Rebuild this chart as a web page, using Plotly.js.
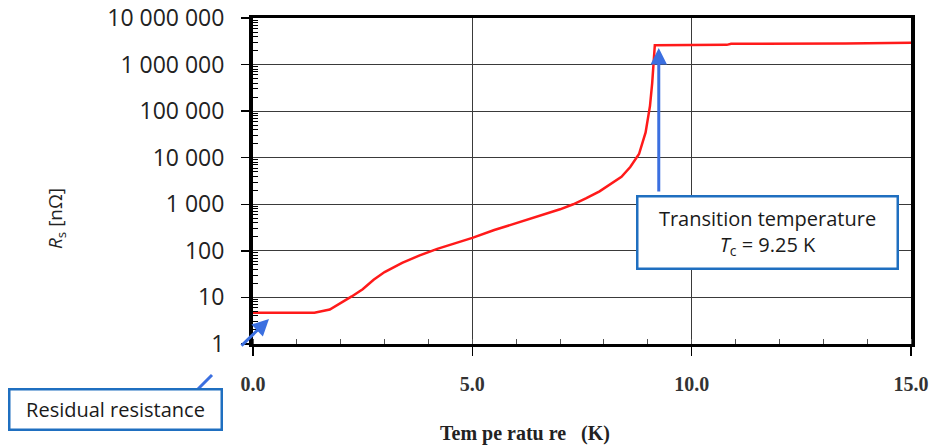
<!DOCTYPE html>
<html>
<head>
<meta charset="utf-8">
<script src="https://cdn.plot.ly/plotly-3.0.1.min.js"></script>
<style>
  html, body { margin: 0; padding: 0; background: #fff; }
  #chart { width: 936px; height: 445px; }
</style>
</head>
<body>
<div id="chart"></div>
<script>
// Surface resistance of a niobium cavity versus temperature
const temperatureK = [0, 0.5, 1.0, 1.4, 1.75, 2.0, 2.25, 2.5, 2.75, 3.0, 3.4, 3.8, 4.2, 4.6, 5.0,
  5.5, 6.0, 6.5, 7.0, 7.3, 7.6, 7.9, 8.2, 8.4, 8.6, 8.8, 8.95, 9.05, 9.1, 9.14, 9.16,
  10.8, 10.9, 13.5, 15.0];
const resistanceNOhm = [4.7, 4.7, 4.7, 4.7, 5.5, 7.5, 10.5, 15, 24, 35, 55, 80, 110, 145, 190,
  280, 390, 560, 780, 1000, 1350, 1900, 2900, 3900, 6300, 12000, 35000, 130000, 400000, 1200000, 2600000,
  2650000, 2800000, 2850000, 2950000];

const xTickVals = [0, 5, 10, 15];
const xTickText = ["0.0", "5.0", "10.0", "15.0"];
const yTickVals = [1, 10, 100, 1000, 10000, 100000, 1000000, 10000000];
const yTickText = ["1", "10", "100", "1 000", "10 000", "100 000", "1 000 000", "10 000 000"];

const transitionTemp = 9.25;
const residualLabel = "Residual resistance";
const transitionLabel = "Transition temperature<br><i>T</i><sub>c</sub> = 9.25 K";
const xTitle = "<b>Tem pe ratu re   (K)</b>";
const yTitle = "<i>R</i><sub>s</sub> [nΩ]";

// minor log ticks 2..9 within each decade
const yMinor = [];
for (let e = 0; e < 7; e++) for (let d = 2; d <= 9; d++) yMinor.push(d * Math.pow(10, e));

const arrowBlue = "#3b6fe0";
const boxBlue = "#1f6fc0";

// plot-area frame in pixels, used to place the free-standing labels
const L = 253, T = 18, W = 658, H = 326;
const px = (x) => (x - L) / W;
const py = (y) => (T + H - y) / H;

const trace = {
  x: temperatureK,
  y: resistanceNOhm,
  type: "scatter",
  mode: "lines",
  line: { color: "#ff1a1a", width: 2.5 },
  hoverinfo: "skip"
};

const layout = {
  width: 936,
  height: 445,
  margin: { l: L, r: 936 - L - W, t: T, b: 445 - T - H, pad: 0 },
  paper_bgcolor: "#ffffff",
  plot_bgcolor: "#ffffff",
  showlegend: false,
  xaxis: {
    range: [0, 15],
    tickvals: xTickVals,
    ticktext: xTickText,
    ticks: "outside",
    ticklen: 9,
    tickwidth: 1.5,
    tickcolor: "#000",
    ticklabelstandoff: 11,
    tickfont: { family: "Liberation Serif, serif", size: 20, color: "#333", weight: "bold" },
    showgrid: true,
    gridcolor: "#3a3a3a",
    gridwidth: 1.2,
    showline: true,
    linecolor: "#000",
    linewidth: 3,
    mirror: true,
    zeroline: false,
    minor: { dtick: 1, tick0: 0, ticks: "inside", ticklen: 5, tickwidth: 1, tickcolor: "#555", showgrid: false },
    automargin: false
  },
  yaxis: {
    type: "log",
    range: [0, 7],
    tickvals: yTickVals,
    ticktext: yTickText,
    ticks: "outside",
    ticklen: 8,
    tickwidth: 1.5,
    tickcolor: "#000",
    ticklabelstandoff: 12,
    tickfont: { family: "Open Sans, sans-serif", size: 23, color: "#222" },
    showgrid: true,
    gridcolor: "#3a3a3a",
    gridwidth: 1.2,
    showline: true,
    linecolor: "#000",
    linewidth: 4,
    mirror: true,
    zeroline: false,
    minor: { tickvals: yMinor, ticks: "inside", ticklen: 5, tickwidth: 1, tickcolor: "#000", showgrid: false },
    automargin: false
  },
  shapes: [
    // lower stub of the residual-resistance pointer, leaving its label box
    { type: "line", xref: "paper", yref: "paper",
      x0: px(197), y0: py(390), x1: px(212), y1: py(375),
      line: { color: arrowBlue, width: 3 } }
  ],
  annotations: [
    // Tc pointer
    { x: transitionTemp, y: 6.355, xref: "x", yref: "y",
      ax: transitionTemp, ay: 3.24, axref: "x", ayref: "y",
      showarrow: true, arrowhead: 2, arrowsize: 1.1, arrowwidth: 3, arrowcolor: arrowBlue, text: "" },
    // residual pointer
    { x: px(269), y: py(319), xref: "paper", yref: "paper",
      ax: -29, ay: 28, showarrow: true, arrowhead: 2, arrowsize: 1.1, arrowwidth: 3,
      arrowcolor: arrowBlue, text: "" },
    // Tc label box
    { x: px(767), y: py(232), xref: "paper", yref: "paper", xanchor: "center", yanchor: "middle",
      showarrow: false, text: transitionLabel, align: "center",
      font: { family: "Open Sans, sans-serif", size: 20, color: "#1a1a1a" },
      bgcolor: "#ffffff", bordercolor: boxBlue, borderwidth: 2.5, borderpad: 1,
      width: 256, height: 68 },
    // residual label box
    { x: px(115), y: py(409), xref: "paper", yref: "paper", xanchor: "center", yanchor: "middle",
      showarrow: false, text: residualLabel, align: "center",
      font: { family: "Open Sans, sans-serif", size: 20, color: "#1a1a1a" },
      bgcolor: "#ffffff", bordercolor: boxBlue, borderwidth: 2.5, borderpad: 1,
      width: 208, height: 36 },
    // x-axis title
    { x: px(525), y: py(433), xref: "paper", yref: "paper", xanchor: "center", yanchor: "middle",
      showarrow: false, text: xTitle,
      font: { family: "Liberation Serif, serif", size: 20, color: "#222" } },
    // y-axis title
    { x: px(56), y: py(218), xref: "paper", yref: "paper", xanchor: "center", yanchor: "middle",
      showarrow: false, textangle: -90, text: yTitle,
      font: { family: "Open Sans, sans-serif", size: 19, color: "#222" } }
  ]
};

Plotly.newPlot("chart", [trace], layout, { staticPlot: true, displayModeBar: false });
</script>
</body>
</html>
